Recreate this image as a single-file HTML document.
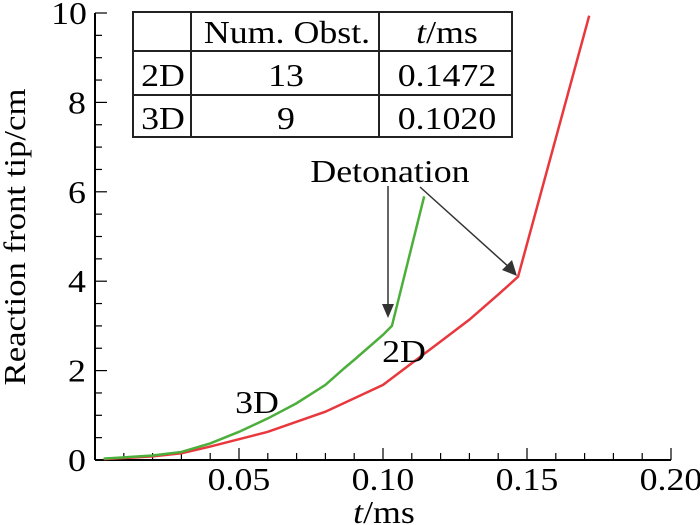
<!DOCTYPE html>
<html><head><meta charset="utf-8"><style>
body{margin:0;background:#fff}
svg{display:block;font-family:"Liberation Serif",serif}
text.s{transform-box:fill-box;transform-origin:center;transform:scaleX(1.12)}
</style></head><body>
<svg width="700" height="525" viewBox="0 0 700 525">
<g id="axes"></g>
<g id="series"></g>
<g stroke="#333" stroke-width="1.5" fill="#333">
 <text class="s" x="390" y="182" font-size="32" text-anchor="middle" stroke="none" fill="#000">Detonation</text>
 <line x1="388" y1="186" x2="388" y2="308"/><polygon points="382,304 394,304 388,318" stroke="none"/>
 <line x1="420" y1="187" x2="510" y2="268"/><polygon points="502,270 512,260 517,276" stroke="none"/>
</g>
<text class="s" x="257" y="413" font-size="32" text-anchor="middle">3D</text>
<text class="s" x="404" y="362" font-size="32" text-anchor="middle">2D</text>
<g font-size="32" text-anchor="middle">
 <rect x="133" y="12" width="379" height="125" fill="#fff" stroke="#222" stroke-width="2"/>
 <line x1="191" y1="12" x2="191" y2="137" stroke="#222" stroke-width="2"/>
 <line x1="379" y1="12" x2="379" y2="137" stroke="#222" stroke-width="2"/>
 <line x1="133" y1="51" x2="512" y2="51" stroke="#222" stroke-width="2"/>
 <line x1="133" y1="95" x2="512" y2="95" stroke="#222" stroke-width="2"/>
 <text class="s" x="287" y="43">Num. Obst.</text><text class="s" x="447" y="43"><tspan font-style="italic">t</tspan>/ms</text>
 <text class="s" x="163" y="86">2D</text><text class="s" x="286" y="86">13</text><text class="s" x="447" y="86">0.1472</text>
 <text class="s" x="163" y="129">3D</text><text class="s" x="286" y="129">9</text><text class="s" x="447" y="129">0.1020</text>
</g>
<text class="s" x="384" y="523" font-size="32" text-anchor="middle"><tspan font-style="italic">t</tspan>/ms</text>
<text transform="translate(25,237) rotate(-90) scale(1.12,1)" font-size="31" text-anchor="middle">Reaction front tip/cm</text>
</svg>
<script>
const xTicks=[0.05,0.10,0.15,0.20];
const xTickLabels=["0.05","0.10","0.15","0.20"];
const yTicks=[0,2,4,6,8,10];
const yTickLabels=["0","2","4","6","8","10"];
const t3D=[0.003,0.02,0.03,0.04,0.05,0.06,0.07,0.08,0.0865,0.09,0.1,0.1031,0.1143];
const y3D=[0.03,0.1,0.18,0.37,0.63,0.93,1.27,1.68,2.05,2.24,2.8,3.0,5.9];
const t2D=[0.003,0.02,0.03,0.04,0.06,0.08,0.1,0.12,0.13,0.14,0.1469,0.1716];
const y2D=[0.02,0.08,0.15,0.3,0.63,1.08,1.68,2.65,3.14,3.7,4.1,9.94];
const X=t=>95+t*2880, Y=v=>460-v*44.7;
const NS="http://www.w3.org/2000/svg";
function mk(tag,attrs,parent){const e=document.createElementNS(NS,tag);for(const k in attrs)e.setAttribute(k,attrs[k]);parent.appendChild(e);return e;}
const ax=document.getElementById('axes');
let a=mk('line',{x1:95,y1:460,x2:671,y2:460,stroke:'#000','stroke-width':2},ax);


a=mk('line',{x1:95,y1:460,x2:95,y2:13,stroke:'#000','stroke-width':2},ax);


for(let i=1;i<=20;i++){const x=X(i*0.01);mk('line',{x1:x,y1:460,x2:x,y2:i%5?453:448,stroke:'#000','stroke-width':1.2},ax);}
for(let i=1;i<=20;i++){const y=Y(i*0.5);mk('line',{x1:95,y1:y,x2:i%4?102:107,y2:y,stroke:'#000','stroke-width':1.2},ax);}
xTicks.forEach((v,i)=>{const t=mk('text',{x:X(v),y:490,'font-size':32,'text-anchor':'middle','class':'s'},ax);t.textContent=xTickLabels[i];

});
yTicks.forEach((v,i)=>{const t=mk('text',{x:85,y:Y(v)+11,'font-size':32,'text-anchor':'end','class':'s'},ax);t.textContent=yTickLabels[i];

});
const sg=document.getElementById('series');
let p=mk('polyline',{points:t2D.map((t,i)=>X(t)+','+Y(y2D[i])).join(' '),fill:'none',stroke:'#e8383d','stroke-width':2.5},sg);


p=mk('polyline',{points:t3D.map((t,i)=>X(t)+','+Y(y3D[i])).join(' '),fill:'none',stroke:'#4caf3c','stroke-width':2.5},sg);


</script>
</body></html>
